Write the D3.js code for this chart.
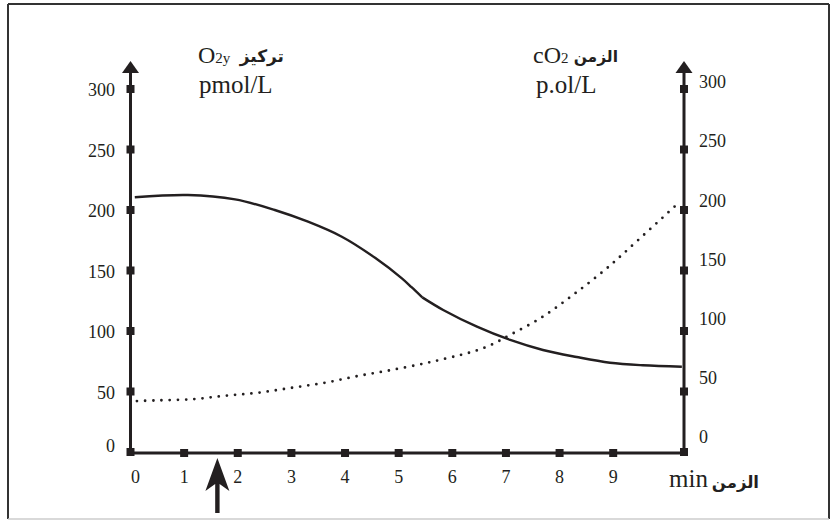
<!DOCTYPE html>
<html>
<head>
<meta charset="utf-8">
<script src="https://cdn.jsdelivr.net/npm/d3@7"></script>
<style>
  html, body { margin: 0; padding: 0; background: #fff; }
  svg { display: block; }
  .num { font-family: "Liberation Serif", "Times New Roman", serif; fill: #231f20; }
  .ar { font-family: "DejaVu Sans", sans-serif; font-weight: bold; fill: #231f20; }
</style>
</head>
<body>
<svg id="chart" width="832" height="520"></svg>
<script>
// ---- data ----
const xTickValues = [0, 1, 2, 3, 4, 5, 6, 7, 8, 9];
const yTickValues = [0, 50, 100, 150, 200, 250, 300];
const xDomainMax = 10.32;

// O2 concentration (solid, left axis); kink at index 9
const o2Time   = [0.08, 1.07, 1.95, 2.69, 3.31, 3.94, 4.56, 5.06, 5.24, 5.44, 5.83, 6.46, 7.08, 7.69, 8.32, 8.94, 9.55, 10.28];
const o2Values = [210.5, 212.4, 208.8, 200, 190.3, 177.9, 160.5, 143.5, 136.2, 127.8, 117.4, 103.6, 92.6, 84.3, 78.5, 73.8, 71.7, 70.5];
const o2KinkIndex = 9;

// CO2 concentration (dotted, right axis)
const co2Time   = [0.12, 0.51, 1.15, 1.76, 2.38, 3.01, 3.63, 4.24, 4.87, 5.49, 5.89, 6.20, 6.48, 6.76, 7.04, 7.64, 8.25, 8.88, 9.50, 10.21];
const co2Values = [42.1, 42.7, 43.6, 46.5, 49.0, 53.1, 57.3, 62.8, 67.8, 73.3, 77.4, 80.7, 84.3, 89.3, 95.9, 110.5, 129.8, 151.8, 176.6, 205.5];

const arrowTime = 1.62;

const leftTitleLatin = "O", leftTitleSub = "2y", leftTitleArabic = "تركيز", leftUnit = "pmol/L";
const rightTitleLatin = "cO", rightTitleSub = "2", rightTitleArabic = "الزمن", rightUnit = "p.ol/L";
const xTitleLatin = "min", xTitleArabic = "الزمن";

// ---- drawing ----
const ink = "#231f20";
const svg = d3.select("#chart");

const x = d3.scaleLinear().domain([0, xDomainMax]).range([130.5, 684]);
const y = d3.scaleLinear().domain([0, 300]).range([452, 89]);
const yLabR = d3.scaleLinear().domain([0, 300]).range([437, 82]);

// frame
svg.append("line").attr("x1", 8).attr("y1", 4).attr("x2", 829).attr("y2", 4).attr("stroke", "#333").attr("stroke-width", 2);
svg.append("line").attr("x1", 8).attr("y1", 4).attr("x2", 8).attr("y2", 519).attr("stroke", "#333").attr("stroke-width", 2);
svg.append("line").attr("x1", 829).attr("y1", 4).attr("x2", 829).attr("y2", 519).attr("stroke", "#333").attr("stroke-width", 2);
svg.append("line").attr("x1", 8).attr("y1", 519).attr("x2", 829).attr("y2", 519).attr("stroke", "#ccc").attr("stroke-width", 1.5);

const xL = x(0), xR = x(xDomainMax), yBase = y(0) + 1;
const arrowTip = 61, arrowBase = 72;

// axes lines
svg.append("line").attr("x1", xL).attr("y1", arrowBase).attr("x2", xL).attr("y2", yBase + 1.5).attr("stroke", ink).attr("stroke-width", 3);
svg.append("line").attr("x1", xR).attr("y1", arrowBase).attr("x2", xR).attr("y2", yBase + 1.5).attr("stroke", ink).attr("stroke-width", 3);
svg.append("line").attr("x1", xL).attr("y1", yBase).attr("x2", xR).attr("y2", yBase).attr("stroke", ink).attr("stroke-width", 3);

// arrow heads on y axes
[xL, xR].forEach(ax => {
  svg.append("path")
    .attr("d", `M${ax},${arrowTip} L${ax + 8.5},${arrowBase + 1} L${ax - 8.5},${arrowBase + 1} Z`)
    .attr("fill", ink);
});

// y tick squares
[xL, xR].forEach(ax => {
  svg.selectAll(null).data(yTickValues).enter().append("rect")
    .attr("x", ax - 4).attr("y", d => y(d) - 4).attr("width", 8).attr("height", 8).attr("fill", ink);
});
// x tick squares
svg.selectAll(null).data(xTickValues.slice(1)).enter().append("rect")
  .attr("x", d => x(d) - 4).attr("y", yBase - 4).attr("width", 8).attr("height", 8).attr("fill", ink);

// y labels
svg.selectAll(null).data(yTickValues).enter().append("text")
  .attr("class", "num").attr("font-size", 18).attr("text-anchor", "end")
  .attr("x", 115).attr("y", d => (d === 0 ? y(d) - 6 : y(d) + 1)).attr("dy", "0.35em")
  .text(d => d);
svg.selectAll(null).data(yTickValues).enter().append("text")
  .attr("class", "num").attr("font-size", 18).attr("text-anchor", "start")
  .attr("x", 699).attr("y", d => yLabR(d)).attr("dy", "0.35em")
  .text(d => d);

// x labels
svg.selectAll(null).data(xTickValues).enter().append("text")
  .attr("class", "num").attr("font-size", 18).attr("text-anchor", "middle")
  .attr("x", d => (d === 0 ? x(d) + 5 : x(d))).attr("y", 483)
  .text(d => d);

// O2 solid curve (two smooth pieces meeting at the kink)
const line = d3.line().x(d => x(d[0])).y(d => y(d[1])).curve(d3.curveCatmullRom.alpha(0.5));
const o2 = o2Time.map((t, i) => [t, o2Values[i]]);
[o2.slice(0, o2KinkIndex + 1), o2.slice(o2KinkIndex)].forEach(seg => {
  svg.append("path").attr("d", line(seg)).attr("fill", "none").attr("stroke", ink)
    .attr("stroke-width", 2.4).attr("stroke-linejoin", "round");
});

// CO2 dotted curve
const co2 = co2Time.map((t, i) => [t, co2Values[i]]);
svg.append("path").attr("d", line(co2)).attr("fill", "none").attr("stroke", ink)
  .attr("stroke-width", 2.8).attr("stroke-linecap", "round").attr("stroke-dasharray", "0 8.2");

// event arrow under x axis
const ax0 = x(arrowTime), tipY = 458;
svg.append("path")
  .attr("d", `M${ax0},${tipY} L${ax0 + 12},${tipY + 33} L${ax0 + 2.2},${tipY + 26} L${ax0 + 2.2},513 L${ax0 - 2.2},513 L${ax0 - 2.2},${tipY + 26} L${ax0 - 12},${tipY + 33} Z`)
  .attr("fill", ink);

// titles
function latinWithSub(xPos, yPos, main, sub) {
  const t = svg.append("text").attr("class", "num").attr("x", xPos).attr("y", yPos);
  t.append("tspan").attr("font-size", 24).text(main);
  t.append("tspan").attr("font-size", 15).text(sub);
  return t;
}
latinWithSub(198, 63, leftTitleLatin, leftTitleSub);
svg.append("text").attr("class", "ar").attr("font-size", 17).attr("text-anchor", "end")
  .attr("x", 284).attr("y", 62).text(leftTitleArabic);
svg.append("text").attr("class", "num").attr("font-size", 25).attr("x", 199).attr("y", 93).text(leftUnit);

latinWithSub(533, 63, rightTitleLatin, rightTitleSub);
svg.append("text").attr("class", "ar").attr("font-size", 15.5).attr("text-anchor", "end")
  .attr("x", 618).attr("y", 62).text(rightTitleArabic);
svg.append("text").attr("class", "num").attr("font-size", 25).attr("x", 536).attr("y", 93).text(rightUnit);

svg.append("text").attr("class", "num").attr("font-size", 25).attr("x", 669).attr("y", 487).text(xTitleLatin);
svg.append("text").attr("class", "ar").attr("font-size", 16.5).attr("text-anchor", "end")
  .attr("x", 759).attr("y", 488).text(xTitleArabic);
</script>
</body>
</html>
